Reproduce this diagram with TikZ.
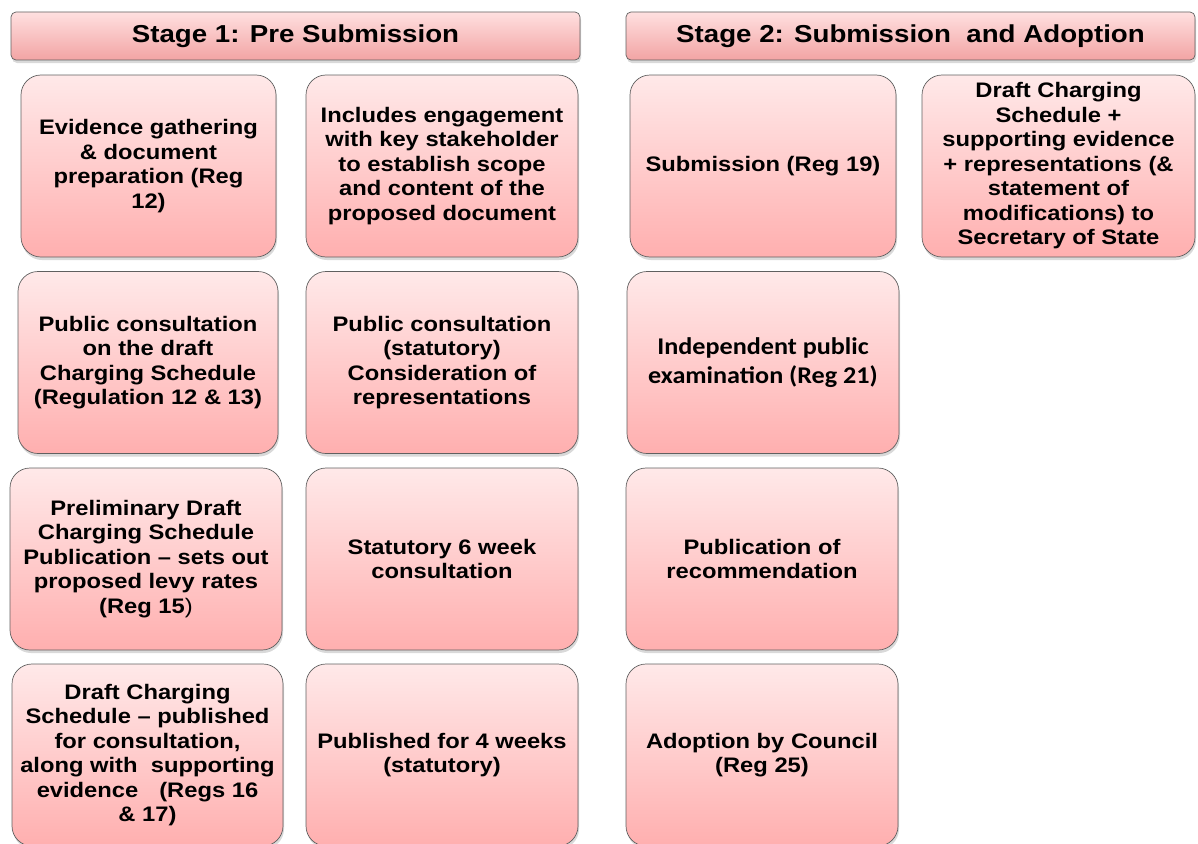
\documentclass[tikz,border=0pt]{standalone}
\usepackage{fontspec}
\setmainfont{Liberation Sans}[FakeStretch=1.13]
\newfontfamily\calibrifont{Carlito}[FakeStretch=1.09]
\usetikzlibrary{shadows}
\definecolor{pinktop}{HTML}{FFE9E9}
\definecolor{pinkbottom}{HTML}{FFAFAF}
\definecolor{stagetop}{HTML}{FFE0E0}
\definecolor{stagebottom}{HTML}{F2A4A4}
\tikzset{
  panel/.style = {
    draw=gray!75!black, line width=0.7pt, inner sep=0pt, align=center,
    top color=pinktop, bottom color=pinkbottom,
    drop shadow={opacity=0.3, shadow xshift=1pt, shadow yshift=-3pt}
  },
  stagebox/.style = {panel, rounded corners=5pt, minimum width=569pt,
    minimum height=48pt, top color=stagetop, bottom color=stagebottom,
    font=\bfseries\fontsize{24.5}{28}\selectfont},
  stepbox/.style = {panel, rounded corners=20pt, minimum height=182pt,
    font=\bfseries\fontsize{21}{24.5}\selectfont}
}

\begin{document}
\begin{tikzpicture}[x=1pt,y=-1pt]
  \useasboundingbox (0,0) rectangle (1198,843);
  % stage headers
  \node[stagebox] (stage1) at (295.5,36) {Stage 1: Pre Submission};
  \node[stagebox] (stage2) at (910.5,36) {Stage 2: Submission\ \ and Adoption};
  % stage 1, first column
  \node[stepbox,minimum width=255pt] (evidence) at (148.5,166)
    {Evidence gathering\\ \& document\\ preparation (Reg\\ 12)};
  \node[stepbox,minimum width=260pt] (publiccons) at (148,362.5)
    {Public consultation\\ on the draft\\ Charging Schedule\\ (Regulation 12 \& 13)};
  \node[stepbox,minimum width=272pt] (preliminary) at (146,559)
    {Preliminary Draft\\ Charging Schedule\\ Publication -- sets out\\ proposed levy rates\\ (Reg 15{\mdseries)}};
  \node[stepbox,minimum width=271pt] (draft) at (147.5,755)
    {Draft Charging\\ Schedule -- published\\ for consultation,\\ along with\ \ supporting\\ evidence\quad (Regs 16\\ \& 17)};
  % stage 1, second column
  \node[stepbox,minimum width=272pt] (engagement) at (442,166)
    {Includes engagement\\ with key stakeholder\\ to establish scope\\ and content of the\\ proposed document};
  \node[stepbox,minimum width=272pt] (statutory) at (442,362.5)
    {Public consultation\\ (statutory)\\ Consideration of\\ representations};
  \node[stepbox,minimum width=272pt] (sixweek) at (442,559)
    {Statutory 6 week\\ consultation};
  \node[stepbox,minimum width=272pt] (fourweek) at (442,755)
    {Published for 4 weeks\\ (statutory)};
  % stage 2
  \node[stepbox,minimum width=266pt] (submission) at (763,166)
    {Submission (Reg 19)};
  \node[stepbox,minimum width=273pt] (secretary) at (1058.5,166)
    {Draft Charging\\ Schedule +\\ supporting evidence\\ + representations (\&\\ statement of\\ modifications) to\\ Secretary of State};
  \node[stepbox,minimum width=272pt,font=\calibrifont\bfseries\fontsize{24}{29}\selectfont] (examination) at (763,362.5)
    {Independent public\\ examination (Reg 21)};
  \node[stepbox,minimum width=272pt] (recommendation) at (762,559)
    {Publication of\\ recommendation};
  \node[stepbox,minimum width=272pt] (adoption) at (762,755)
    {Adoption by Council\\ (Reg 25)};
\end{tikzpicture}
\end{document}
